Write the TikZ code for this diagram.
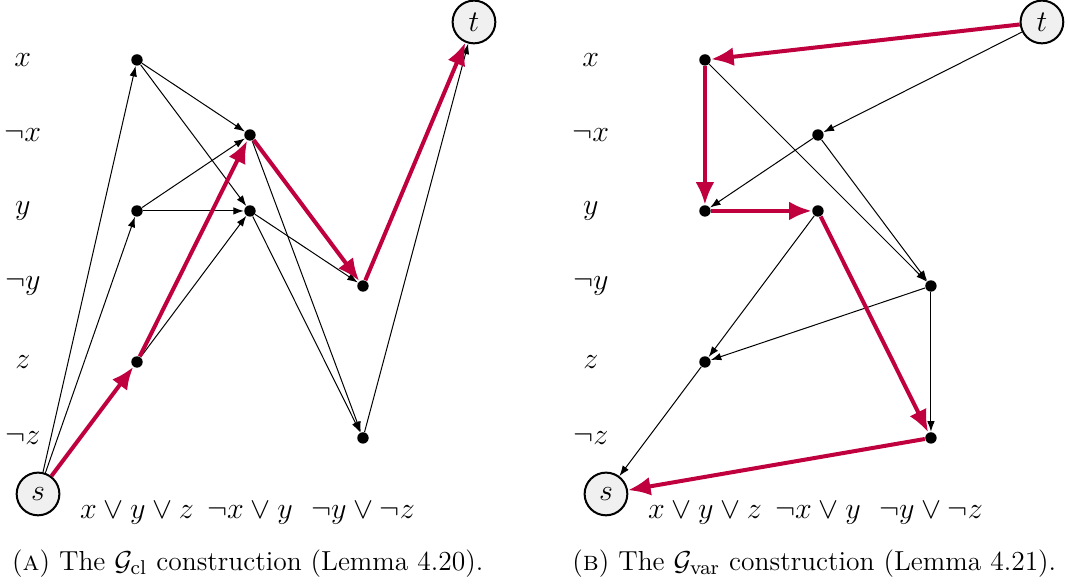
\documentclass[tikz,border=0pt]{standalone}
\usepackage{amsmath}
\usepackage{amssymb}
\usetikzlibrary{arrows.meta}
\definecolor{pathred}{RGB}{192,0,62}
\newcommand{\vtx}[3]{% x, y, name   (small black vertex)
  \node[vtx] (#3) at (#1,#2) {};}
\newcommand{\litrows}[1]{% name prefix of the panel
  \node[lit] (#1lx) at (0.32,7.374) {$x$};
  \node[lit] (#1lnx) at (0.32,6.320) {$\neg x$};
  \node[lit] (#1ly) at (0.32,5.253) {$y$};
  \node[lit] (#1lny) at (0.32,4.199) {$\neg y$};
  \node[lit] (#1lz) at (0.32,3.132) {$z$};
  \node[lit] (#1lnz) at (0.32,2.065) {$\neg z$};
  \node[lit] (#1c1) at (1.924,1.011) {$x \lor y \lor z$};
  \node[lit] (#1c2) at (3.511,1.011) {$\neg x \lor y$};
  \node[lit] (#1c3) at (5.098,1.011) {$\neg y \lor \neg z$};}

\begin{document}
\begin{tikzpicture}[
  vtx/.style={circle,fill,inner sep=0,minimum size=0.16cm},
  term/.style={circle,draw,line width=0.8pt,fill=black!6,inner sep=0,minimum size=0.6cm,font=\large},
  lit/.style={font=\large},
  capt/.style={font={\fontsize{11pt}{13pt}\selectfont}},
  edge/.style={-{Latex[length=4.2pt,width=3pt]},line width=0.4pt},
  hot/.style={-{Latex[length=9pt,width=7.5pt]},line width=1.6pt,pathred}]
  \useasboundingbox (0,0) rectangle (15,8.216);
  % ---- (a) clause construction ----
  \litrows{a}
  \node[term] (as) at (0.534,1.278) {$s$};
  \node[term] (at) at (6.657,7.907) {$t$};
  \vtx{1.924}{7.374}{ax}
  \vtx{1.924}{5.253}{ay}
  \vtx{1.924}{3.132}{az}
  \vtx{3.511}{6.320}{anx}
  \vtx{3.511}{5.253}{ay2}
  \vtx{5.098}{4.199}{any}
  \vtx{5.098}{2.065}{anz}
  \draw[edge] (as) -- (ax);
  \draw[edge] (as) -- (ay);
  \draw[edge] (ax) -- (anx);
  \draw[edge] (ax) -- (ay2);
  \draw[edge] (ay) -- (anx);
  \draw[edge] (ay) -- (ay2);
  \draw[edge] (az) -- (ay2);
  \draw[edge] (anx) -- (anz);
  \draw[edge] (ay2) -- (any);
  \draw[edge] (ay2) -- (anz);
  \draw[edge] (anz) -- (at);
  % satisfying path
  \draw[hot] (as) -- (az);
  \draw[hot] (az) -- (anx);
  \draw[hot] (anx) -- (any);
  \draw[hot] (any) -- (at);
  \node[capt] (capa) at (3.48,0.30) {(\textsc{a}) The $\mathcal{G}_{\mathrm{cl}}$ construction (Lemma 4.20).};
  % ---- (b) variable construction ----
  \begin{scope}[xshift=7.977cm]
  \litrows{b}
  \node[term] (bs) at (0.534,1.278) {$s$};
  \node[term] (bt) at (6.657,7.907) {$t$};
  \vtx{1.924}{7.374}{bx}
  \vtx{3.511}{6.320}{bnx}
  \vtx{1.924}{5.253}{by}
  \vtx{3.511}{5.253}{by2}
  \vtx{5.098}{4.199}{bny}
  \vtx{1.924}{3.132}{bz}
  \vtx{5.098}{2.065}{bnz}
  \draw[edge] (bt) -- (bnx);
  \draw[edge] (bx) -- (bny);
  \draw[edge] (bnx) -- (by);
  \draw[edge] (bnx) -- (bny);
  \draw[edge] (by2) -- (bz);
  \draw[edge] (bny) -- (bz);
  \draw[edge] (bny) -- (bnz);
  \draw[edge] (bz) -- (bs);
  % satisfying path
  \draw[hot] (bt) -- (bx);
  \draw[hot] (bx) -- (by);
  \draw[hot] (by) -- (by2);
  \draw[hot] (by2) -- (bnz);
  \draw[hot] (bnz) -- (bs);
  \node[capt] (capb) at (3.46,0.30) {(\textsc{b}) The $\mathcal{G}_{\mathrm{var}}$ construction (Lemma 4.21).};
  \end{scope}
\end{tikzpicture}
\end{document}
